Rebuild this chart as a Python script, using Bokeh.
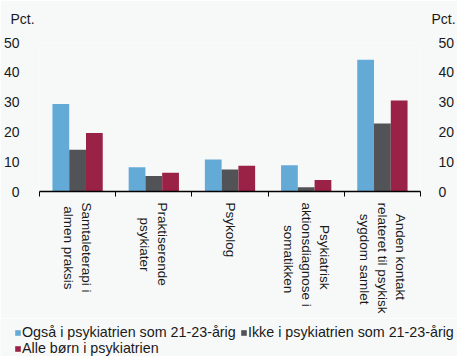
import math
import numpy as np
from bokeh.plotting import figure
from bokeh.layouts import column
from bokeh.models import (ColumnDataSource, Range1d, LinearAxis, FixedTicker,
                          Legend, LegendItem, Label)
from bokeh.transform import dodge
from bokeh.embed import file_html
from bokeh.resources import INLINE

# ---- data ----
NB = "\u00a0"
categories = ["Samtaleterapi i\n" + NB + "almen praksis",
              "Praktiserende\n" + NB * 4 + "psykiater",
              "Psykolog",
              NB * 6 + "Psykiatrisk\naktionsdiagnose i\n" + NB * 6 + "somatikken",
              NB * 3 + "Anden kontakt\nrelateret til psykisk\n" + NB * 3 + "sygdom samlet"]
ogsaa = [29.4, 8.1, 10.7, 8.8, 44.2]
ikke = [14.0, 5.2, 7.4, 1.4, 22.8]
alle = [19.6, 6.3, 8.6, 3.9, 30.5]
series_names = ["Også i psykiatrien som 21-23-årig",
                "Ikke i psykiatrien som 21-23-årig",
                "Alle børn i psykiatrien"]
y_ticks = [0, 10, 20, 30, 40, 50]

colors = ["#64aad6", "#525357", "#9a2246"]
BG = "#f7f9f9"
FONT = "Liberation Sans"
TXT = "#1a1a1a"

pos = np.arange(len(categories)) + 0.5
src = ColumnDataSource(dict(x=pos, a=ogsaa, b=ikke, c=alle))

p = figure(width=457, height=318, output_backend="svg", toolbar_location=None,
           x_range=Range1d(0, len(categories)), y_range=Range1d(0, 50),
           x_axis_type=None, y_axis_type=None,
           min_border_left=39, min_border_right=29, min_border_top=42,
           min_border_bottom=127)
p.frame_align = False
p.background_fill_color = BG
p.border_fill_color = BG
p.outline_line_color = None
p.xgrid.visible = False

p.ygrid.ticker = FixedTicker(ticks=y_ticks)
p.ygrid.grid_line_color = "#a3a3a3"
p.ygrid.grid_line_width = 1

bw = 0.22
for col, off, c in zip(["a", "b", "c"], [-bw, 0, bw], colors):
    p.vbar(x=dodge("x", off), top=col, width=bw, bottom=0, source=src,
           fill_color=c, line_color=None)

for side, standoff in (("left", 14), ("right", 12)):
    ax = LinearAxis(ticker=FixedTicker(ticks=y_ticks))
    ax.axis_line_color = None
    ax.major_tick_line_color = None
    ax.minor_tick_line_color = None
    ax.major_label_standoff = standoff
    ax.major_label_text_font = FONT
    ax.major_label_text_font_size = "14px"
    ax.major_label_text_color = TXT
    p.add_layout(ax, side)

xb = LinearAxis(ticker=FixedTicker(ticks=list(range(len(categories) + 1))))
xb.axis_line_color = "black"
xb.axis_line_width = 1.5
xb.major_tick_line_color = "black"
xb.major_tick_out = 5
xb.major_tick_in = 0
xb.minor_tick_line_color = None
xb.major_label_overrides = {i: "" for i in range(len(categories) + 1)}
xb.major_label_text_font_size = "1px"
xb.major_label_standoff = 0
p.add_layout(xb, "below")

xl = LinearAxis(ticker=FixedTicker(ticks=list(pos)))
xl.axis_line_color = None
xl.major_tick_line_color = None
xl.minor_tick_line_color = None
xl.major_label_overrides = {float(v): c for v, c in zip(pos, categories)}
xl.major_label_orientation = -math.pi / 2
xl.major_label_standoff = 0
xl.major_label_text_font = FONT
xl.major_label_text_font_size = "13.5px"
xl.major_label_text_color = TXT
p.add_layout(xl, "below")

# "Pct." above both y axes (second one sits in a stacked panel above the first)
for xx, yy in ((-29, 24), (392, 8)):
    p.add_layout(Label(x=xx, y=yy, x_units="screen", y_units="screen",
                       text="Pct.", text_font=FONT, text_font_size="14px",
                       text_baseline="middle", text_color=TXT), "above")

# legend strip (its own small plot, hidden copies of the bar renderers)
pl = figure(width=457, height=38, output_backend="svg", toolbar_location=None,
            x_axis_type=None, y_axis_type=None, min_border=0,
            x_range=Range1d(100, 101), y_range=Range1d(100, 101))
pl.frame_align = False
pl.background_fill_color = BG
pl.border_fill_color = BG
pl.outline_line_color = None
pl.grid.visible = False
leg_r = []
for col, off, c in zip(["a", "b", "c"], [-bw, 0, bw], colors):
    r = pl.vbar(x=dodge("x", off), top=col, width=bw, bottom=0, source=src,
                fill_color=c, line_color=None)
    leg_r.append(r)
legend = Legend(items=[LegendItem(label=n, renderers=[r])
                       for n, r in zip(series_names, leg_r)],
                location=(14, 0), orientation="horizontal", ncols=2)
legend.label_text_font = FONT
legend.label_text_font_size = "14.3px"
legend.label_text_color = TXT
legend.glyph_width = 7
legend.glyph_height = 7
legend.label_height = 16
legend.label_width = 218
legend.label_standoff = 1
legend.spacing = 0
legend.padding = 0
legend.margin = 0
legend.border_line_color = None
legend.background_fill_alpha = 0
pl.add_layout(legend, "center")

layout = column(p, pl, spacing=0)
open("out.html", "w").write(file_html(layout, INLINE))
